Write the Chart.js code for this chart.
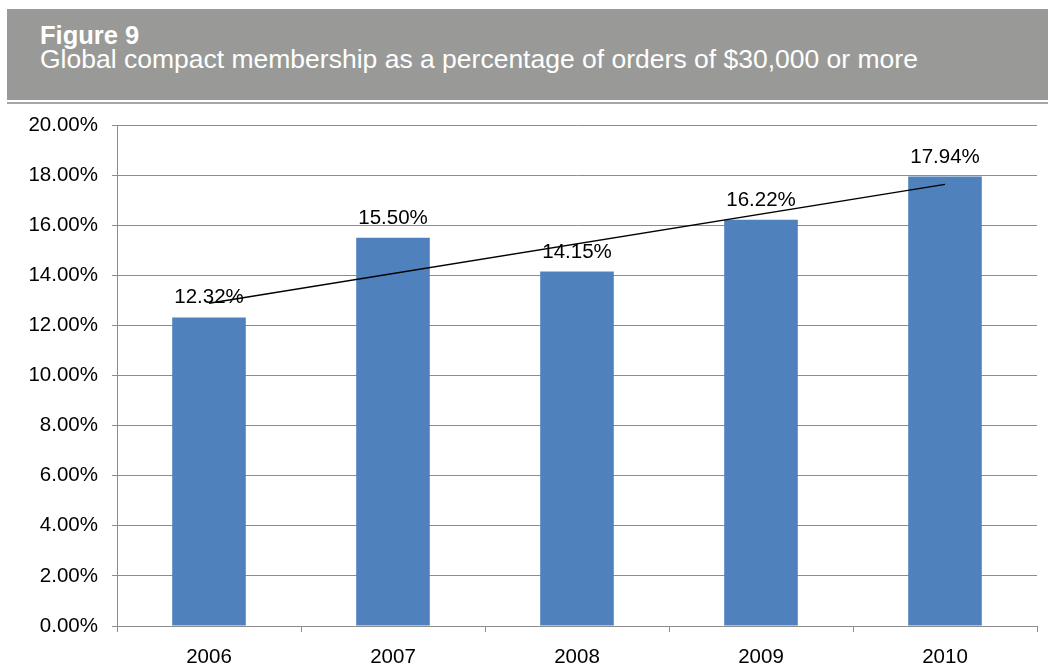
<!DOCTYPE html>
<html>
<head>
<meta charset="utf-8">
<script src="https://cdn.jsdelivr.net/npm/chart.js@4.4.0/dist/chart.umd.min.js"></script>
<style>
  html, body { margin: 0; padding: 0; background: #fff; }
  body { width: 1048px; height: 668px; position: relative; overflow: hidden;
         font-family: "Liberation Sans", Arial, sans-serif; }
  #header { position: absolute; left: 7px; top: 9px; width: 1041px; height: 91px; background: #999a97; }
  #rule { position: absolute; left: 7px; top: 102px; width: 1041px; height: 2px; background: #a6a6a6; }
  .htxt { position: absolute; left: 40px; color: #fff; font-size: 26.5px; line-height: 26px; white-space: nowrap; }
  #title { top: 22px; font-weight: bold; font-size: 25.5px; }
  #subtitle { top: 46px; }
  #wrap { position: absolute; left: 0; top: 0; width: 1048px; height: 668px; }
</style>
</head>
<body>
<div id="wrap"><canvas id="myChart"></canvas></div>
<div id="header"></div>
<div id="rule"></div>
<div class="htxt" id="title">Figure 9</div>
<div class="htxt" id="subtitle">Global compact membership as a percentage of orders of $30,000 or more</div>

<script>
// dados do grafico
const years = ['2006', '2007', '2008', '2009', '2010'];
const membership = [12.32, 15.50, 14.15, 16.22, 17.94];
const trend = [12.88, null, null, null, 17.63];
const yTicks = [0, 2, 4, 6, 8, 10, 12, 14, 16, 18, 20];

const FONT = '"Liberation Sans", Arial, sans-serif';
const GRID = '#8c8c8c';

// rotulos em cima das barras
const barLabels = {
    id: 'barLabels',
    afterDatasetsDraw(chart) {
        const ctx = chart.ctx;
        const meta = chart.getDatasetMeta(1);
        ctx.save();
        ctx.font = '20.5px ' + FONT;
        ctx.fillStyle = '#000';
        ctx.textAlign = 'center';
        ctx.textBaseline = 'alphabetic';
        meta.data.forEach(function (bar, i) {
            ctx.fillText(membership[i].toFixed(2) + '%', bar.x, bar.y - 14);
        });
        ctx.restore();
    }
};

const ctx = document.getElementById('myChart').getContext('2d');
const myChart = new Chart(ctx, {
    type: 'bar',
    data: {
        labels: years,
        datasets: [{
            type: 'line',
            data: trend,
            borderColor: '#000',
            borderWidth: 1.5,
            pointRadius: 0,
            spanGaps: true,
            fill: false,
            order: 0
        }, {
            data: membership,
            backgroundColor: '#4f81bd',
            categoryPercentage: 1,
            barPercentage: 0.4,
            order: 1
        }]
    },
    options: {
        responsive: true,
        maintainAspectRatio: false,
        animation: false,
        layout: { padding: { top: 125, right: 11, left: 0, bottom: 0 } },
        plugins: {
            legend: { display: false },
            tooltip: { enabled: false }
        },
        scales: {
            x: {
                grid: { drawOnChartArea: false, drawTicks: true, tickLength: 6, color: GRID, offset: true },
                border: { color: GRID, width: 1 },
                ticks: { color: '#000', font: { family: FONT, size: 20.5 }, padding: 13 },
                afterFit: function (scale) { scale.height = 42; }
            },
            y: {
                min: 0,
                max: 20,
                afterBuildTicks: function (scale) {
                    scale.ticks = yTicks.map(function (v) { return { value: v }; });
                },
                grid: { color: GRID, tickLength: 5 },
                border: { color: GRID, width: 1 },
                ticks: {
                    color: '#000',
                    font: { family: FONT, size: 20.5 },
                    padding: 14,
                    callback: function (v) { return v.toFixed(2) + '%'; }
                },
                afterFit: function (scale) { scale.width = 117; }
            }
        }
    },
    plugins: [barLabels]
});
</script>
</body>
</html>
